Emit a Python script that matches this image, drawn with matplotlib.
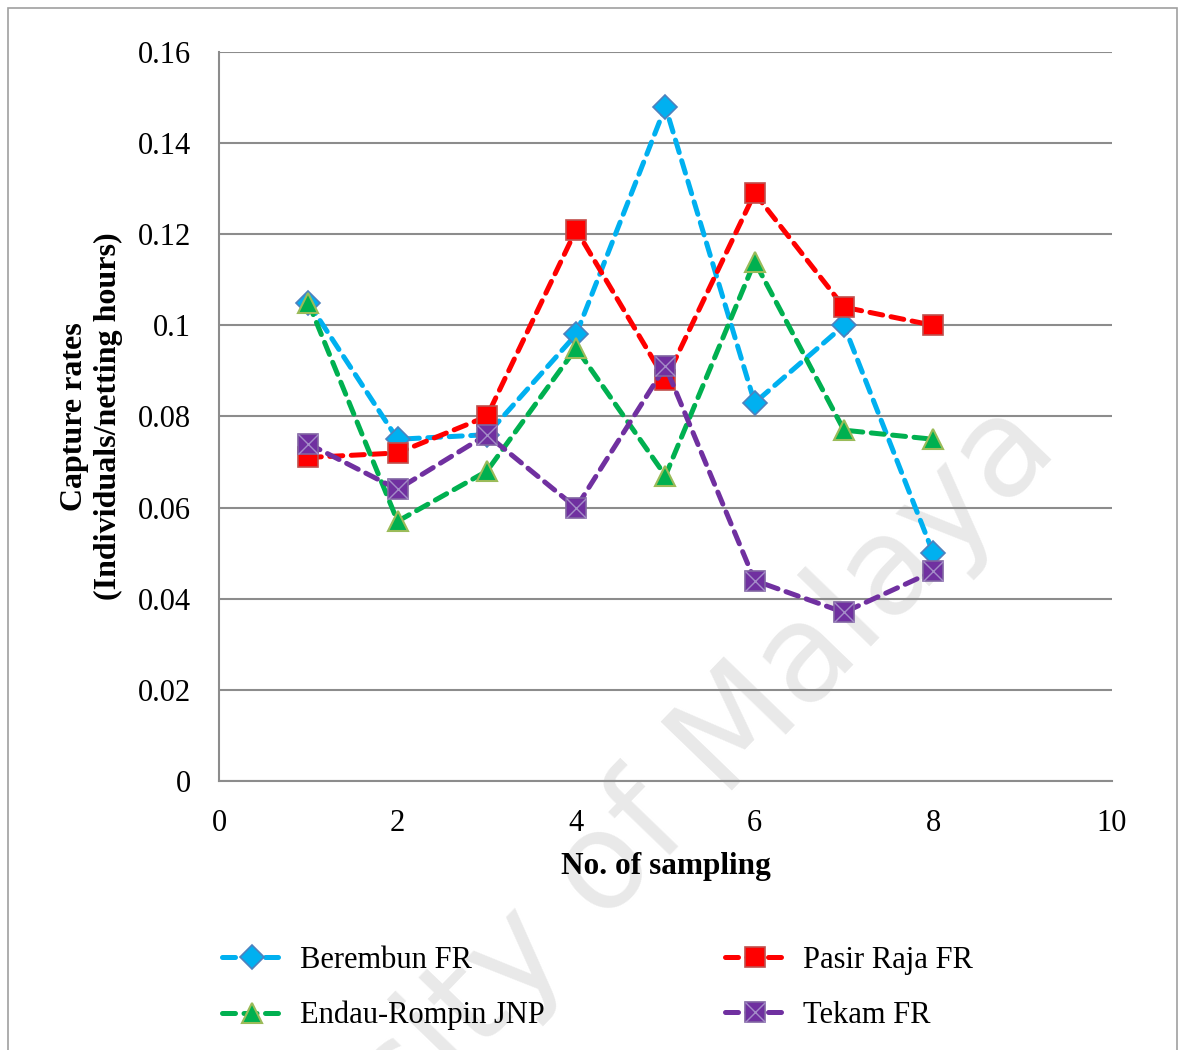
import matplotlib.pyplot as plt
from matplotlib.patches import Rectangle
from matplotlib.lines import Line2D

plt.rcParams['font.family'] = ['Liberation Serif', 'DejaVu Serif']

sampling = [1, 2, 3, 4, 5, 6, 7, 8]
berembun = [0.105, 0.075, 0.076, 0.098, 0.148, 0.083, 0.100, 0.050]
pasir_raja = [0.071, 0.072, 0.080, 0.121, 0.088, 0.129, 0.104, 0.100]
endau_rompin = [0.105, 0.057, 0.068, 0.095, 0.067, 0.114, 0.077, 0.075]
tekam = [0.074, 0.064, 0.076, 0.060, 0.091, 0.044, 0.037, 0.046]

labels = ["Berembun FR", "Pasir Raja FR", "Endau-Rompin JNP", "Tekam FR"]
y_ticks = [0, 0.02, 0.04, 0.06, 0.08, 0.1, 0.12, 0.14, 0.16]
y_tick_labels = ["0", "0.02", "0.04", "0.06", "0.08", "0.1", "0.12", "0.14", "0.16"]
x_ticks = [0, 2, 4, 6, 8, 10]

fig = plt.figure(figsize=(11.84, 10.5), dpi=100)
ax = fig.add_axes([0.185, 0.2562, 0.754, 0.6943])
ax.set_facecolor('none')

# border round the whole chart
fig.patches.append(Rectangle((0.007, -0.01), 0.987, 1.0024, transform=fig.transFigure,
                             fill=False, edgecolor='#a0a0a0', linewidth=1.2))

# faint watermark, behind everything
fig.text(0.465, 0.12, "University of Malaya", rotation=46, fontsize=98,
         family='DejaVu Sans', color='#e9e9e9', ha='center', va='center', zorder=-5)

dash = (2.6, 1.7)
lw = 3.6

l1, = ax.plot(sampling, berembun, color='#00B0F0', lw=lw, dashes=dash, dash_capstyle='round',
              marker='D', ms=12, mfc='#00B0F0', mec='#4F81BD', mew=1.2, zorder=3)
l2, = ax.plot(sampling, pasir_raja, color='#FF0000', lw=lw, dashes=dash, dash_capstyle='round',
              marker='s', ms=15, mfc='#FF0000', mec='#C0504D', mew=1.2, zorder=4)
l3, = ax.plot(sampling, endau_rompin, color='#00B050', lw=lw, dashes=dash, dash_capstyle='round',
              marker='^', ms=15, mfc='#00B050', mec='#9BBB59', mew=1.5, zorder=5)
l4, = ax.plot(sampling, tekam, color='#7030A0', lw=lw, dashes=dash, dash_capstyle='round',
              marker='s', ms=15, mfc='#7030A0', mec='#8064A2', mew=1.2, zorder=6)
ax.plot(sampling, tekam, ls='none', marker='x', ms=14, mec='#A48CC8', mew=1.0, zorder=7)

ax.set_xlim(0, 10)
ax.set_ylim(0, 0.16)
ax.set_xticks(x_ticks)
ax.set_yticks(y_ticks)
ax.set_yticklabels(y_tick_labels)
ax.tick_params(length=0, labelsize=22, pad=20)
ax.grid(axis='y', color='#8c8c8c', linewidth=1.5)
ax.set_axisbelow(True)
for s in ['top', 'right']:
    ax.spines[s].set_visible(False)
for s in ['left', 'bottom']:
    ax.spines[s].set_color('#8c8c8c')
    ax.spines[s].set_linewidth(1.5)

ax.set_xlabel("No. of sampling", fontsize=22.5, fontweight='bold', labelpad=10)
ax.set_ylabel("Capture rates\n(Individuals/netting hours)", fontsize=23, fontweight='bold',
              labelpad=11, linespacing=1.2)

# legend handles with the cross on the Tekam square
h4 = (l4, Line2D([], [], ls='none', marker='x', ms=14, mec='#A48CC8', mew=1.0))
fig.legend([l1, l3, l2, h4], [labels[0], labels[2], labels[1], labels[3]],
           ncol=2, loc='center left', bbox_to_anchor=(0.164, 0.059), frameon=False,
           fontsize=22, handlelength=2.0, columnspacing=5.9, labelspacing=0.85,
           handletextpad=0.55)

fig.savefig("out.png", dpi=100)
